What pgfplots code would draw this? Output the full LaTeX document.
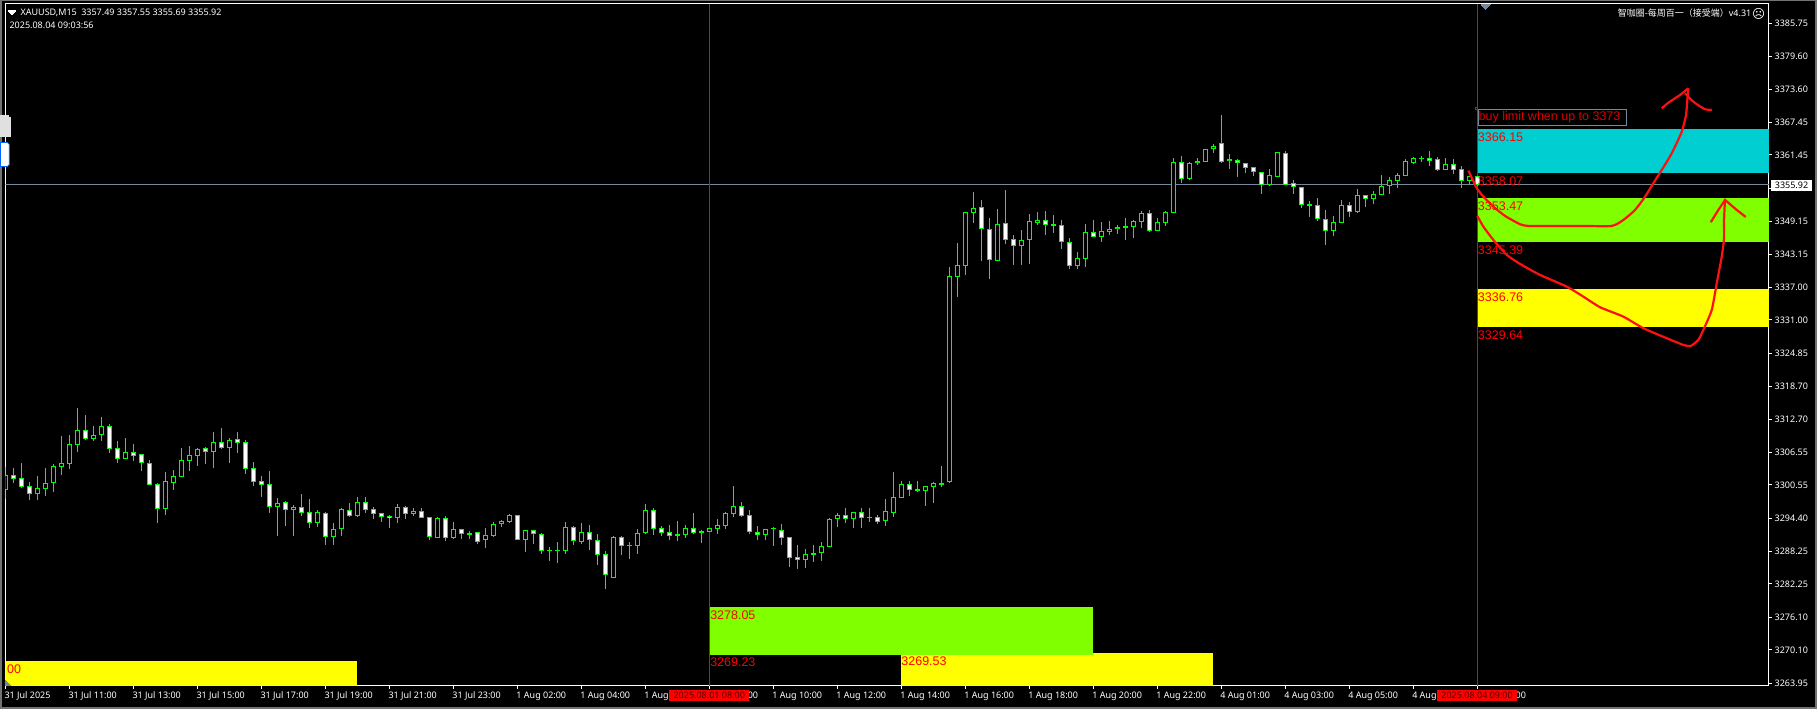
\documentclass[border=0pt]{standalone}
\usepackage{pgfplots}
\usepackage{pgfplotstable}
\usepackage{fontspec}
\pgfplotsset{compat=1.18}
\setmainfont{Noto Sans}
\newfontfamily\arial{Liberation Sans}
\newfontfamily\cjk{Noto Sans CJK SC}
\newfontfamily\djv{DejaVu Sans}
\definecolor{cgreen}{HTML}{00FF00}
\definecolor{zcyan}{HTML}{00CED1}
\definecolor{zlime}{HTML}{7FFF00}
\definecolor{zyel}{HTML}{FFFF00}
\definecolor{slate}{HTML}{778899}
\definecolor{draw1}{HTML}{FF1010}
\tikzset{lab/.style={anchor=west,text=red,inner sep=0pt,font=\arial\fontsize{12.5}{14}\selectfont},
  info/.style={anchor=west,text=white,inner sep=0pt,font=\fontsize{9}{10}\selectfont}}
% i high top bottom low bear
\pgfplotstableread{
i h t b l d
0 3303.81 3302.33 3299.56 3297.96 0
1 3303.68 3302.33 3301.72 3300.98 1
2 3304.54 3301.78 3300.24 3300.06 1
3 3301.10 3300.30 3298.95 3297.78 1
4 3302.21 3299.93 3298.95 3297.78 0
5 3303.68 3300.85 3299.87 3298.52 0
6 3304.42 3303.99 3300.85 3299.26 0
7 3309.59 3304.54 3303.93 3302.33 0
8 3309.77 3308.05 3304.48 3303.50 0
9 3314.75 3310.63 3307.99 3306.64 0
10 3313.46 3310.63 3309.10 3308.91 1
11 3311.43 3309.71 3309.10 3308.67 0
12 3313.09 3311.37 3309.71 3308.67 0
13 3311.80 3311.37 3307.25 3306.45 1
14 3308.67 3307.31 3305.41 3304.61 1
15 3309.22 3306.57 3305.41 3305.41 0
16 3308.05 3306.57 3305.96 3304.98 1
17 3306.21 3306.21 3304.54 3303.13 1
18 3305.16 3304.54 3300.61 3300.49 1
19 3300.85 3300.67 3296.18 3293.54 1
20 3302.88 3301.22 3296.18 3295.01 0
21 3303.31 3302.15 3300.98 3299.62 0
22 3307.31 3305.10 3302.08 3302.08 0
23 3307.74 3306.02 3305.04 3303.13 0
24 3307.44 3307.13 3305.96 3304.05 0
25 3307.62 3307.31 3306.70 3304.42 1
26 3310.33 3308.42 3306.70 3303.68 0
27 3311.06 3308.42 3307.44 3307.25 1
28 3309.22 3308.79 3307.44 3304.61 0
29 3310.33 3308.97 3308.36 3306.45 1
30 3308.79 3308.42 3303.56 3302.58 1
31 3304.79 3303.62 3301.16 3300.36 1
32 3302.21 3301.22 3300.55 3298.33 1
33 3303.13 3300.67 3296.55 3295.38 1
34 3298.15 3297.29 3296.49 3291.14 0
35 3297.66 3297.35 3296.00 3292.98 1
36 3296.80 3296.43 3296.00 3291.14 0
37 3298.89 3296.43 3295.44 3294.83 1
38 3297.96 3295.50 3293.60 3292.61 1
39 3295.93 3295.50 3293.60 3292.80 0
40 3295.50 3295.32 3291.01 3289.48 1
41 3293.47 3292.37 3291.01 3289.48 0
42 3296.24 3296.06 3292.31 3291.14 0
43 3297.23 3295.87 3294.89 3294.64 1
44 3298.33 3297.35 3294.89 3294.64 0
45 3298.33 3297.35 3296.00 3295.38 1
46 3296.49 3296.06 3295.26 3294.27 1
47 3295.32 3295.32 3294.70 3293.72 1
48 3295.01 3294.77 3294.34 3292.61 1
49 3297.04 3296.43 3294.34 3293.54 0
50 3296.67 3296.49 3295.26 3294.27 1
51 3296.30 3295.69 3295.26 3294.83 0
52 3296.30 3295.69 3294.52 3294.52 1
53 3294.64 3294.58 3291.01 3290.40 1
54 3294.58 3294.40 3290.83 3290.83 0
55 3294.77 3294.40 3290.83 3290.22 1
56 3293.72 3292.37 3290.83 3290.58 0
57 3292.37 3292.37 3291.57 3290.58 1
58 3292.00 3291.63 3291.38 3290.58 0
59 3291.88 3291.81 3289.91 3289.72 1
60 3292.55 3291.26 3290.46 3288.92 0
61 3293.72 3293.29 3291.20 3290.89 0
62 3294.09 3293.84 3293.29 3292.68 0
63 3295.14 3294.95 3293.72 3293.47 0
64 3295.01 3294.95 3290.46 3290.28 1
65 3292.18 3292.18 3290.46 3288.19 0
66 3292.18 3292.18 3291.45 3289.66 1
67 3291.63 3291.45 3288.43 3287.82 1
68 3289.05 3288.55 3288.31 3286.53 0
69 3289.97 3288.49 3288.31 3286.16 0
70 3293.72 3292.74 3288.43 3287.82 0
71 3292.98 3292.74 3290.15 3289.48 1
72 3293.47 3291.81 3290.09 3289.72 0
73 3293.17 3291.81 3290.28 3288.55 1
74 3291.51 3290.34 3287.69 3285.79 1
75 3288.31 3287.76 3283.88 3281.36 1
76 3291.08 3290.95 3283.39 3283.27 0
77 3291.14 3290.89 3289.35 3287.63 1
78 3289.97 3289.48 3289.23 3286.89 0
79 3292.43 3291.63 3289.35 3287.82 0
80 3297.04 3295.87 3291.63 3291.57 0
81 3296.30 3295.87 3292.49 3291.32 1
82 3292.98 3292.55 3291.75 3291.14 1
83 3293.17 3291.81 3291.20 3290.40 1
84 3293.91 3291.45 3291.20 3290.22 0
85 3293.11 3292.61 3291.32 3290.77 0
86 3295.38 3292.55 3291.75 3291.51 1
87 3292.24 3292.00 3291.75 3289.85 0
88 3292.61 3292.55 3291.94 3291.88 0
89 3294.27 3293.11 3292.49 3291.51 0
90 3295.57 3295.32 3293.04 3292.43 0
91 3300.36 3296.61 3295.20 3294.64 0
92 3297.41 3296.61 3294.77 3294.64 1
93 3295.93 3294.95 3291.88 3291.51 1
94 3292.98 3291.94 3291.32 3290.40 1
95 3292.43 3292.37 3291.32 3290.40 0
96 3292.80 3292.55 3292.31 3289.29 0
97 3293.29 3292.18 3290.71 3289.48 1
98 3290.95 3290.89 3287.14 3285.42 1
99 3289.48 3287.20 3286.59 3285.05 1
100 3288.74 3287.76 3286.59 3285.23 0
101 3289.48 3287.94 3287.69 3286.34 0
102 3289.97 3289.29 3287.88 3286.53 0
103 3294.40 3294.27 3289.11 3289.05 0
104 3295.32 3295.01 3294.21 3292.80 0
105 3296.30 3294.95 3294.21 3293.54 1
106 3295.57 3295.50 3294.21 3292.61 0
107 3296.30 3295.50 3294.34 3292.61 1
108 3296.30 3294.64 3294.40 3293.72 0
109 3294.95 3294.58 3293.78 3293.35 1
110 3297.96 3295.69 3293.91 3292.98 0
111 3302.95 3298.27 3295.44 3294.64 0
112 3301.29 3300.67 3298.21 3298.21 0
113 3301.29 3300.67 3299.69 3298.52 1
114 3301.29 3299.75 3299.44 3299.26 1
115 3300.30 3300.30 3299.38 3296.67 0
116 3301.10 3300.85 3300.24 3297.23 0
117 3304.05 3300.85 3300.61 3300.18 0
118 3340.78 3339.12 3301.04 3300.98 0
119 3345.21 3341.09 3339.00 3335.25 0
120 3350.87 3350.87 3341.03 3339.31 0
121 3354.62 3351.61 3350.81 3348.90 0
122 3353.14 3351.79 3347.86 3341.89 1
123 3349.82 3347.73 3342.14 3338.57 1
124 3351.48 3348.66 3341.89 3341.89 0
125 3354.99 3348.84 3345.83 3345.03 1
126 3346.69 3345.89 3344.72 3341.15 1
127 3347.61 3345.70 3344.72 3341.15 0
128 3350.56 3349.21 3345.83 3341.34 0
129 3350.93 3349.39 3348.96 3348.53 0
130 3351.12 3349.39 3348.59 3346.69 1
131 3350.38 3348.66 3348.41 3347.06 0
132 3349.45 3348.47 3345.46 3344.10 1
133 3346.13 3345.33 3341.03 3340.41 1
134 3343.55 3342.38 3341.03 3340.41 0
135 3348.72 3347.18 3342.32 3340.78 0
136 3349.45 3347.18 3346.38 3346.32 1
137 3349.09 3347.36 3346.38 3345.40 0
138 3349.27 3347.73 3347.30 3346.69 0
139 3348.53 3348.10 3347.73 3346.87 0
140 3349.82 3348.29 3348.04 3345.76 0
141 3349.45 3349.21 3348.22 3346.13 0
142 3351.12 3350.68 3349.15 3347.98 0
143 3351.30 3350.68 3347.49 3347.24 1
144 3349.82 3349.02 3347.49 3347.43 0
145 3351.12 3350.87 3348.96 3348.35 0
146 3360.89 3360.09 3350.81 3350.75 0
147 3361.26 3360.09 3357.08 3356.28 1
148 3360.16 3359.91 3357.08 3356.83 0
149 3360.89 3360.28 3359.91 3359.60 0
150 3362.62 3362.49 3360.22 3360.22 0
151 3363.48 3363.05 3362.49 3361.82 0
152 3368.83 3363.60 3360.22 3359.97 1
153 3361.63 3360.65 3360.28 3358.86 0
154 3360.65 3360.46 3359.91 3357.39 1
155 3359.97 3359.91 3358.99 3358.13 1
156 3359.17 3359.17 3358.25 3357.57 1
157 3358.31 3358.25 3355.85 3354.25 1
158 3358.86 3357.70 3355.85 3355.79 0
159 3362.00 3361.94 3357.45 3357.39 0
160 3362.19 3361.75 3355.97 3355.85 1
161 3356.83 3356.22 3355.48 3354.25 1
162 3355.48 3355.48 3352.28 3351.67 1
163 3352.96 3352.35 3352.10 3350.01 0
164 3353.51 3352.16 3349.58 3349.27 1
165 3351.30 3349.58 3347.49 3344.84 1
166 3350.19 3349.02 3347.49 3346.50 0
167 3353.14 3352.16 3348.96 3348.90 0
168 3352.78 3352.16 3350.99 3350.01 1
169 3355.17 3354.01 3350.99 3350.75 0
170 3354.07 3354.01 3353.39 3351.85 1
171 3354.74 3354.19 3353.39 3352.41 0
172 3357.76 3355.67 3354.13 3354.07 0
173 3357.33 3356.77 3355.79 3354.25 0
174 3358.06 3357.70 3356.71 3355.36 0
175 3360.65 3360.28 3357.63 3357.57 0
176 3361.08 3360.83 3360.03 3359.79 0
177 3361.26 3360.83 3360.71 3360.16 0
178 3362.19 3360.83 3360.40 3359.42 1
179 3361.02 3360.65 3358.74 3358.50 1
180 3360.83 3359.73 3358.68 3358.68 0
181 3360.71 3359.73 3358.68 3357.94 1
182 3359.42 3358.80 3356.71 3355.36 1
183 3357.57 3357.51 3356.71 3355.85 0
184 3357.55 3357.49 3355.92 3355.69 1
}\candles
\begin{document}
\begin{tikzpicture}[x=1pt,y=1pt]
\fill[black!55] (0,0) rectangle (1817,709);
\fill[black] (2,2) rectangle (1815,708);
\begin{axis}[
  at={(5pt,23pt)},anchor=south west,
  scale only axis,width=1764pt,height=682pt,
  xmin=-0.0625,xmax=220.44,ymin=3263.45,ymax=3389.31,
  axis line style={white,line width=1pt},
  tick style={white,line width=1pt},
  tick align=outside,major tick length=3pt,
  ytick pos=right,xtick pos=bottom,
  xtick={0,8,...,184},
  xticklabels={31 Jul 2025,31 Jul 11:00,31 Jul 13:00,31 Jul 15:00,31 Jul 17:00,31 Jul 19:00,31 Jul 21:00,31 Jul 23:00,1 Aug 02:00,1 Aug 04:00,1 Aug 06:00,1 Aug 08:00,1 Aug 10:00,1 Aug 12:00,1 Aug 14:00,1 Aug 16:00,1 Aug 18:00,1 Aug 20:00,1 Aug 22:00,4 Aug 01:00,4 Aug 03:00,4 Aug 05:00,4 Aug 07:00,4 Aug 09:00},
  ytick={3385.75,3379.60,3373.60,3367.45,3361.45,3355.30,3349.15,3343.15,3337.00,3331.00,3324.85,3318.70,3312.70,3306.55,3300.55,3294.40,3288.25,3282.25,3276.10,3270.10,3263.95},
  yticklabels={3385.75,3379.60,3373.60,3367.45,3361.45,3355.30,3349.15,3343.15,3337.00,3331.00,3324.85,3318.70,3312.70,3306.55,3300.55,3294.40,3288.25,3282.25,3276.10,3270.10,3263.95},
  xticklabel style={white,font=\fontsize{9}{10}\selectfont,anchor=north west,inner sep=0pt,xshift=-1.5pt,yshift=-2pt,text height=7pt,text depth=0pt},
  yticklabel style={white,font=\fontsize{9}{10}\selectfont,anchor=west,inner sep=0pt,xshift=2.5pt},
  clip=true,
]
% zones
\addplot[fill=zyel,draw=none] coordinates {(-0.0625,3268.06)(43.94,3268.06)(43.94,3263.45)(-0.0625,3263.45)} -- cycle;
\addplot[fill=zyel,draw=none] coordinates {(111.94,3269.53)(150.94,3269.53)(150.94,3263.45)(111.94,3263.45)} -- cycle;
\addplot[fill=zlime,draw=none] coordinates {(88,3278.05)(135.94,3278.05)(135.94,3269.23)(88,3269.23)} -- cycle;
\addplot[fill=zcyan,draw=none] coordinates {(184.03,3366.15)(220.44,3366.15)(220.44,3358.07)(184.03,3358.07)} -- cycle;
\addplot[fill=zlime,draw=none] coordinates {(184.03,3353.47)(220.44,3353.47)(220.44,3345.39)(184.03,3345.39)} -- cycle;
\addplot[fill=zyel,draw=none] coordinates {(184.03,3336.76)(220.44,3336.76)(220.44,3329.64)(184.03,3329.64)} -- cycle;
% last price line
\addplot[slate,line width=1pt] coordinates {(-0.0625,3355.92)(220.44,3355.92)};
% period separators
\addplot[red,line width=1pt] coordinates {(88,3263.45)(88,3389.31)};
\addplot[red,line width=1pt] coordinates {(184,3263.45)(184,3389.31)};
% wicks
\addplot[cgreen,line width=1pt,no marks,quiver={u=0,v={\thisrow{h}-\thisrow{l}}}] table[x=i,y=l] {\candles};
% bodies
\addplot[cgreen,line width=5pt,no marks,quiver={u=0,v={\thisrow{t}-\thisrow{b}}}] table[x=i,y=b] {\candles};
% hollow (rising) bodies
\addplot[black,line width=3pt,no marks,restrict expr to domain={\thisrow{d}}{-0.5:0.5},quiver={u=0,v={max(\thisrow{t}-\thisrow{b}-0.369,0)}}] table[x=i,y expr=\thisrow{b}+0.1846] {\candles};
% filled (falling) bodies
\addplot[white,line width=3pt,no marks,restrict expr to domain={\thisrow{d}}{0.5:1.5},quiver={u=0,v={max(\thisrow{t}-\thisrow{b}-0.369,0)}}] table[x=i,y expr=\thisrow{b}+0.1846] {\candles};
\end{axis}
% overlay in picture pixels: annotations drawn on the chart
\begin{axis}[
  at={(0pt,0pt)},anchor=south west,scale only axis,width=1817pt,height=709pt,
  xmin=0,xmax=1817,ymin=0,ymax=709,y dir=reverse,hide axis,clip=false,
]
% freehand curves
\addplot[draw1,line width=2.2pt,smooth,tension=0.35] coordinates {(1468.3,170.7)(1472.7,180)(1476.7,188.3)(1483.3,196.7)(1493.3,206.7)(1505,216)(1520,224.3)(1528.3,226)(1550,226)(1583.3,226)(1611.7,226)(1623.3,220)(1635,210)(1645,196.7)(1653.3,183.3)(1661.7,170)(1671.7,153.3)(1681.7,131.7)(1686,115)(1687.3,100)(1688.3,88.3)};
\addplot[draw1,line width=2.2pt] coordinates {(1661.7,108.3)(1668.3,102.7)(1680,95)(1688.3,88.3)};
\addplot[draw1,line width=2.2pt,smooth] coordinates {(1685,93.3)(1693.3,101.7)(1705,109.3)(1711.7,109.7)};
\addplot[draw1,line width=2.2pt,smooth,tension=0.35] coordinates {(1477.3,216)(1483.3,226.7)(1493.3,240)(1506.7,255)(1521.7,265)(1540,275)(1566.7,286.7)(1583.3,296.7)(1600,307.3)(1623.3,316.7)(1643.3,328.3)(1666.7,338.3)(1683.3,345)(1690.7,346)(1698.3,340)(1703.3,330)(1711.7,310)(1716.7,283.3)(1721.7,256.7)(1724,238.3)(1724,220)(1725,199)};
\addplot[draw1,line width=2.2pt] coordinates {(1710.7,222.3)(1718.3,210)(1725,200)(1736.7,210)(1745.7,217)};
% chart objects' labels
\node[lab] at (axis cs:1477.7,137.3) {3366.15};
\node[lab] at (axis cs:1477.7,181) {3358.07};
\node[lab] at (axis cs:1477.7,206) {3353.47};
\node[lab] at (axis cs:1477.7,250.5) {3345.39};
\node[lab] at (axis cs:1477.7,297) {3336.76};
\node[lab] at (axis cs:1477.7,335) {3329.64};
\node[lab] at (axis cs:709.8,615.5) {3278.05};
\node[lab] at (axis cs:709.8,662) {3269.23};
\node[lab] at (axis cs:901,661) {3269.53};
\node[lab] at (axis cs:6.5,669) {00};
\node[lab,text=red!85!black,draw=slate,line width=0.8pt,minimum height=16pt,inner xsep=0.5pt,inner ysep=0pt] at (axis cs:1477.7,117.3) {\makebox[147pt][l]{buy limit when up to 3373}};
\addplot[red,only marks,mark=square,mark size=1pt,line width=0.6pt] coordinates {(1476,108.3)};
% header
\addplot[white,fill=white,line width=0pt] coordinates {(8,11)(15,11)(11.5,14.5)} -- cycle;
\node[info] at (axis cs:20,12.7) {XAUUSD,M15\hspace{3pt}\,3357.49 3357.55 3355.69 3355.92};
\node[info] at (axis cs:9,25.7) {2025.08.04 09:03:56};
\node[info,anchor=east] at (axis cs:1751.5,13.5) {{\cjk\fontsize{9}{10}\selectfont 智咖圈-每周百一（接受端）}v4.31};
\node[anchor=center,inner sep=0pt,text=white,font=\djv\fontsize{12.5}{14}\selectfont] at (axis cs:1758.5,14) {☹};
% markers
\addplot[slate,fill=slate,line width=0pt] coordinates {(1481,4.8)(1490,4.8)(1485.5,9.3)} -- cycle;
\addplot[slate,fill=slate,line width=0pt] coordinates {(5.5,681)(10.5,685.5)(5.5,685.5)} -- cycle;
% last price box
\node[fill=white,text=black,inner sep=0pt,font=\fontsize{9}{10}\selectfont,minimum width=41pt,minimum height=11pt] at (axis cs:1791.5,185.7) {3355.92};
% cross-hair time labels
\node[fill=red,text=black!70!red,inner sep=0pt,font=\fontsize{9}{10}\selectfont,minimum width=80pt,minimum height=10.7pt] at (axis cs:709,695.5) {2025.08.01 08:00};
\node[fill=red,text=black!70!red,inner sep=0pt,font=\fontsize{9}{10}\selectfont,minimum width=80pt,minimum height=10.7pt] at (axis cs:1477,695.5) {2025.08.04 09:00};
% side tool tabs
\addplot[black!12,fill=black!12,line width=0pt] coordinates {(0,116)(8,116)(10,118)(10,137)(0,137)} -- cycle;
\addplot[blue!60!cyan,fill=white,line width=0.8pt] coordinates {(0,142.5)(7,142.5)(9,144.5)(9,164.5)(7,166.5)(0,166.5)} -- cycle;
\end{axis}
\end{tikzpicture}
\end{document}
